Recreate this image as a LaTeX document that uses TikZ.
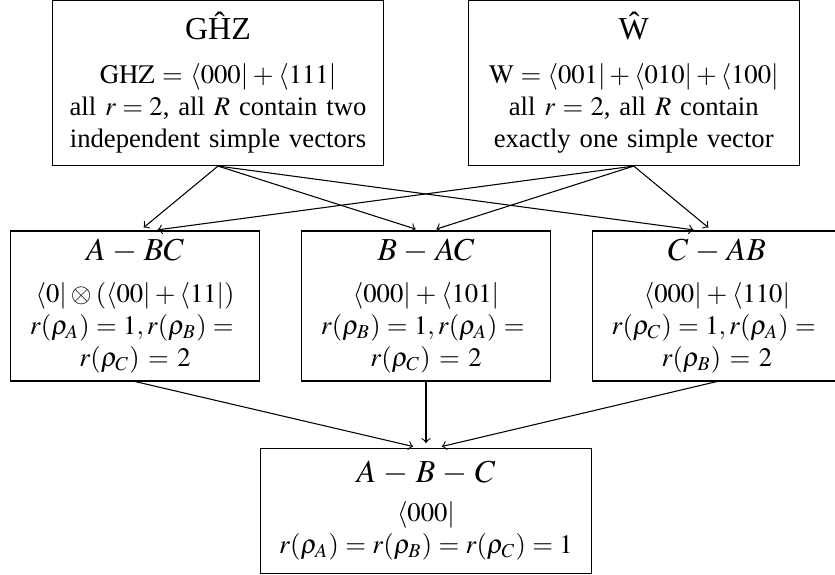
\documentclass[tikz,border=0pt]{standalone}
\usepackage{mathptmx}
\usepackage{fontspec}
\setmainfont{Liberation Serif}
\usetikzlibrary{positioning}

\begin{document}
\begin{tikzpicture}[x=0.375pt,y=-0.375pt,node distance=24.75pt and 15.4pt,
  state/.style={draw,align=center,inner sep=3pt},
  upper/.style={state,text width=118pt,minimum height=61.9pt},
  middle/.style={state,text width=87.3pt,minimum height=56.25pt},
  lower/.style={state,text width=118.4pt,minimum height=46.9pt},
  link/.style={->,shorten >=1.7pt}]
\useasboundingbox (0,0) rectangle (835,575);
% two entangled classes on top
\node[upper] (ghz) at (218,83) {{\large G\^HZ}\\[4.5pt]
  $\mathrm{GHZ}=\langle 000|+\langle 111|$\\
  all $r=2$, all $R$ contain two\\
  independent simple vectors};
\node[upper, right=31.5pt of ghz] (w) {{\large \^W}\\[4.5pt]
  $\mathrm{W}=\langle 001|+\langle 010|+\langle 100|$\\
  all $r=2$, all $R$ contain\\
  exactly one simple vector};
% biseparable classes
\node[middle] (bac) at (426,306) {{\large $B-AC$}\\[3.5pt]
  $\langle 000|+\langle 101|$\\
  $r(\rho_B)=1,r(\rho_A)={}$\\
  $r(\rho_C)=2$};
\node[middle, left=of bac] (abc) {{\large $A-BC$}\\[3.5pt]
  $\langle 0|\otimes(\langle 00|+\langle 11|)$\\
  $r(\rho_A)=1,r(\rho_B)={}$\\
  $r(\rho_C)=2$};
\node[middle, right=of bac] (cab) {{\large $C-AB$}\\[3.5pt]
  $\langle 000|+\langle 110|$\\
  $r(\rho_C)=1,r(\rho_A)={}$\\
  $r(\rho_B)=2$};
% fully separable
\node[lower, below=of bac] (sep) {{\large $A-B-C$}\\[2.5pt]
  $\langle 000|$\\
  $r(\rho_A)=r(\rho_B)=r(\rho_C)=1$};
\draw[link] (ghz.south) -- ([xshift=1.9pt]abc.north);
\draw[link] (ghz.south) -- ([xshift=-2.25pt]bac.north);
\draw[link] (ghz.south) -- ([xshift=-7.1pt]cab.north);
\draw[link] (w.south) -- ([xshift=6.75pt]abc.north);
\draw[link] (w.south) -- ([xshift=2.25pt]bac.north);
\draw[link] (w.south) -- ([xshift=-1.9pt]cab.north);
\draw[link] (abc.south) -- ([xshift=-3.2pt]sep.north);
\draw[link] (bac.south) -- (sep.north);
\draw[link] (cab.south) -- ([xshift=4.3pt]sep.north);
\end{tikzpicture}
\end{document}
